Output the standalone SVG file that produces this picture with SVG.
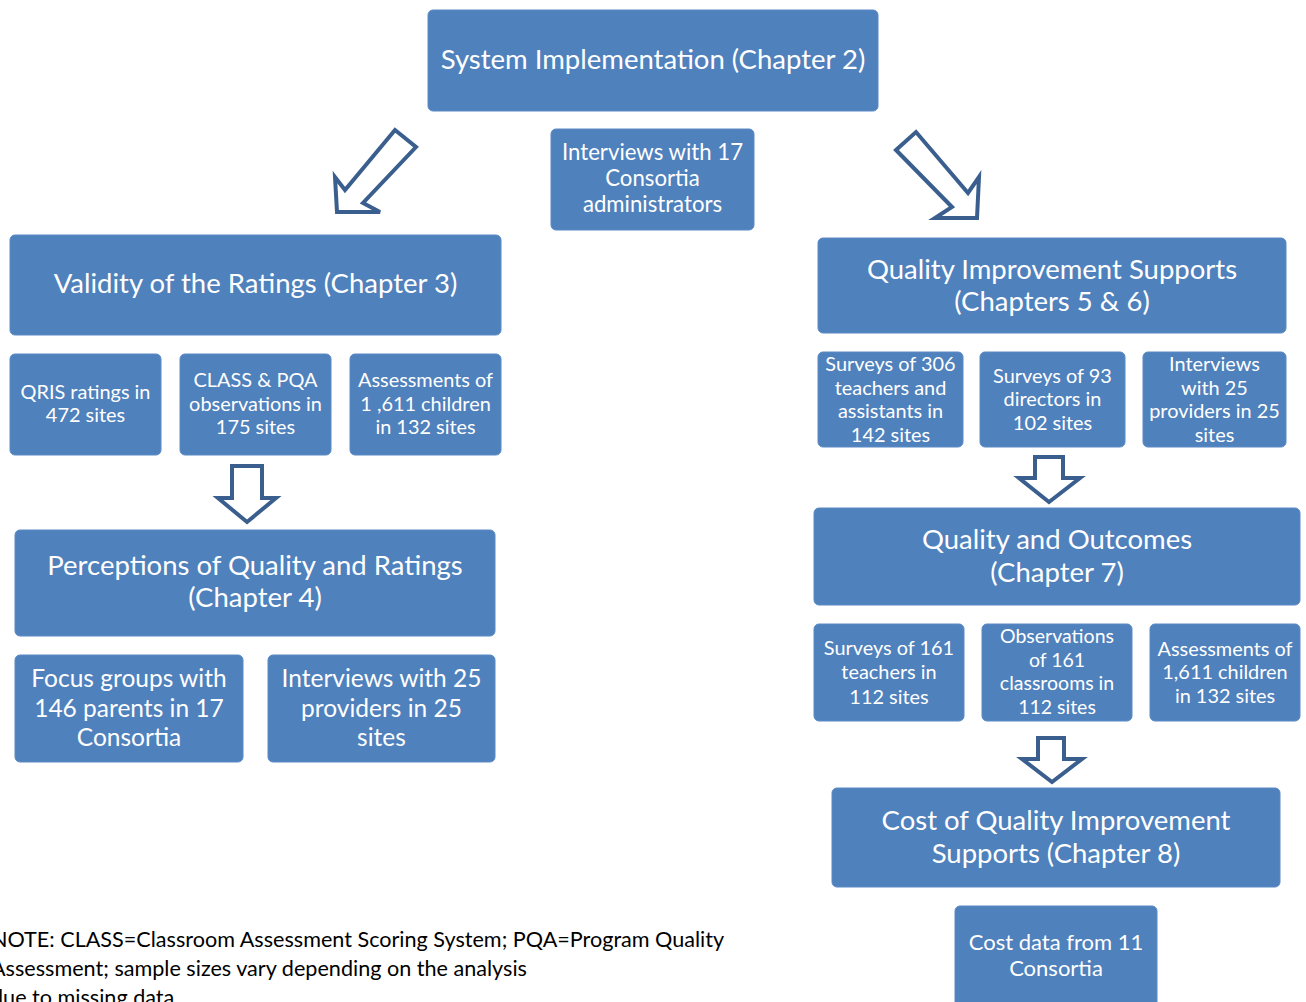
<svg xmlns="http://www.w3.org/2000/svg" width="1306" height="1002" viewBox="0 0 1306 1002">
<style>
.box{fill:#4F81BD;stroke:#5A8AC6;stroke-width:1}
.t{font-family:Lato,"Open Sans",sans-serif;fill:#fff;text-anchor:middle}
.big{font-size:27.5px}
.mid{font-size:24.5px}
.sm{font-size:19.9px}
.arr{fill:#fff;stroke:#3A5F8E;stroke-width:4;stroke-linejoin:miter}
.note{font-family:Lato,"Open Sans",sans-serif;font-size:21.6px;fill:#000}
</style>
<rect width="1306" height="1002" fill="#fff"/>
<g id="n1"><rect class="box" x="428" y="10" width="450" height="101" rx="5"/><text class="t big" x="653" y="69">System Implementation (Chapter 2)</text></g>
<g id="n2"><rect class="box" x="551" y="129" width="203" height="101" rx="5"/><text class="t" style="font-size:22.2px" x="652.5"><tspan x="652.5" y="160">Interviews with 17</tspan><tspan x="652.5" y="186">Consortia</tspan><tspan x="652.5" y="212">administrators</tspan></text></g>
<g id="n3"><rect class="box" x="10" y="235" width="491" height="100" rx="5"/><text class="t big" x="255.5" y="293">Validity of the Ratings (Chapter 3)</text></g>
<g id="n4"><rect class="box" x="10" y="354" width="151" height="101" rx="5"/><text class="t sm"><tspan x="85.5" y="399">QRIS ratings in</tspan><tspan x="85.5" y="422">472 sites</tspan></text></g>
<g id="n5"><rect class="box" x="180" y="354" width="151" height="101" rx="5"/><text class="t sm"><tspan x="255.5" y="387">CLASS &amp; PQA</tspan><tspan x="255.5" y="411">observations in</tspan><tspan x="255.5" y="434">175 sites</tspan></text></g>
<g id="n6"><rect class="box" x="350" y="354" width="151" height="101" rx="5"/><text class="t sm"><tspan x="425.5" y="387">Assessments of</tspan><tspan x="425.5" y="411">1 ,611 children</tspan><tspan x="425.5" y="434">in 132 sites</tspan></text></g>
<g id="n7"><rect class="box" x="15" y="530" width="480" height="106" rx="5"/><text class="t big"><tspan x="255" y="575">Perceptions of Quality and Ratings</tspan><tspan x="255" y="607">(Chapter 4)</tspan></text></g>
<g id="n8"><rect class="box" x="15" y="655" width="228" height="107" rx="5"/><text class="t mid"><tspan x="129" y="687">Focus groups with</tspan><tspan x="129" y="717">146 parents in 17</tspan><tspan x="129" y="746">Consortia</tspan></text></g>
<g id="n9"><rect class="box" x="268" y="655" width="227" height="107" rx="5"/><text class="t mid"><tspan x="381.5" y="687">Interviews with 25</tspan><tspan x="381.5" y="717">providers in 25</tspan><tspan x="381.5" y="746">sites</tspan></text></g>
<g id="n10"><rect class="box" x="818" y="238" width="468" height="95" rx="5"/><text class="t big"><tspan x="1052" y="279">Quality Improvement Supports</tspan><tspan x="1052" y="311">(Chapters 5 &amp; 6)</tspan></text></g>
<g id="n11"><rect class="box" x="818" y="352" width="145" height="95" rx="5"/><text class="t sm"><tspan x="890.5" y="371">Surveys of 306</tspan><tspan x="890.5" y="395">teachers and</tspan><tspan x="890.5" y="418">assistants in</tspan><tspan x="890.5" y="442">142 sites</tspan></text></g>
<g id="n12"><rect class="box" x="980" y="352" width="145" height="95" rx="5"/><text class="t sm"><tspan x="1052.5" y="383">Surveys of 93</tspan><tspan x="1052.5" y="406">directors in</tspan><tspan x="1052.5" y="430">102 sites</tspan></text></g>
<g id="n13"><rect class="box" x="1143" y="352" width="143" height="95" rx="5"/><text class="t sm"><tspan x="1214.5" y="371">Interviews</tspan><tspan x="1214.5" y="395">with 25</tspan><tspan x="1214.5" y="418">providers in 25</tspan><tspan x="1214.5" y="442">sites</tspan></text></g>
<g id="n14"><rect class="box" x="814" y="508" width="486" height="97" rx="5"/><text class="t big"><tspan x="1057" y="549">Quality and Outcomes</tspan><tspan x="1057" y="582">(Chapter 7)</tspan></text></g>
<g id="n15"><rect class="box" x="814" y="624" width="150" height="97" rx="5"/><text class="t sm"><tspan x="889" y="655">Surveys of 161</tspan><tspan x="889" y="679">teachers in</tspan><tspan x="889" y="704">112 sites</tspan></text></g>
<g id="n16"><rect class="box" x="982" y="624" width="150" height="97" rx="5"/><text class="t" style="font-size:19.5px"><tspan x="1057" y="643">Observations</tspan><tspan x="1057" y="667">of 161</tspan><tspan x="1057" y="690">classrooms in</tspan><tspan x="1057" y="714">112 sites</tspan></text></g>
<g id="n17"><rect class="box" x="1150" y="624" width="150" height="97" rx="5"/><text class="t sm"><tspan x="1225" y="656">Assessments of</tspan><tspan x="1225" y="679">1,611 children</tspan><tspan x="1225" y="703">in 132 sites</tspan></text></g>
<g id="n18"><rect class="box" x="832" y="788" width="448" height="99" rx="5"/><text class="t big"><tspan x="1056" y="830">Cost of Quality Improvement</tspan><tspan x="1056" y="863">Supports (Chapter 8)</tspan></text></g>
<g id="n19"><rect class="box" x="955" y="906" width="202" height="110" rx="5"/><text class="t" style="font-size:22px"><tspan x="1056" y="950">Cost data from 11</tspan><tspan x="1056" y="976">Consortia</tspan></text></g>
<g id="connectors">
<polygon class="arr" points="395,130 416,147 363,203 380,212 337,212 335,177 345,190"/>
<polygon class="arr" points="896,150 916,132 968,193 979,177 977,218 935,218 952,207"/>
<polygon class="arr" points="232,466 262,466 262,498 276,498 247,522 218,498 232,498"/>
<polygon class="arr" points="1035,457 1063,457 1063,478 1080,478 1049,502 1019,478 1035,478"/>
<polygon class="arr" points="1038,738 1064,738 1064,759 1082,759 1052,782 1022,759 1038,759"/>
</g>
<g id="note"><text class="note"><tspan x="-9" y="947">NOTE: CLASS=Classroom Assessment Scoring System; PQA=Program Quality</tspan><tspan x="-9" y="976">Assessment; sample sizes vary depending on the analysis</tspan><tspan x="-9" y="1005">due to missing data</tspan></text></g>
</svg>
